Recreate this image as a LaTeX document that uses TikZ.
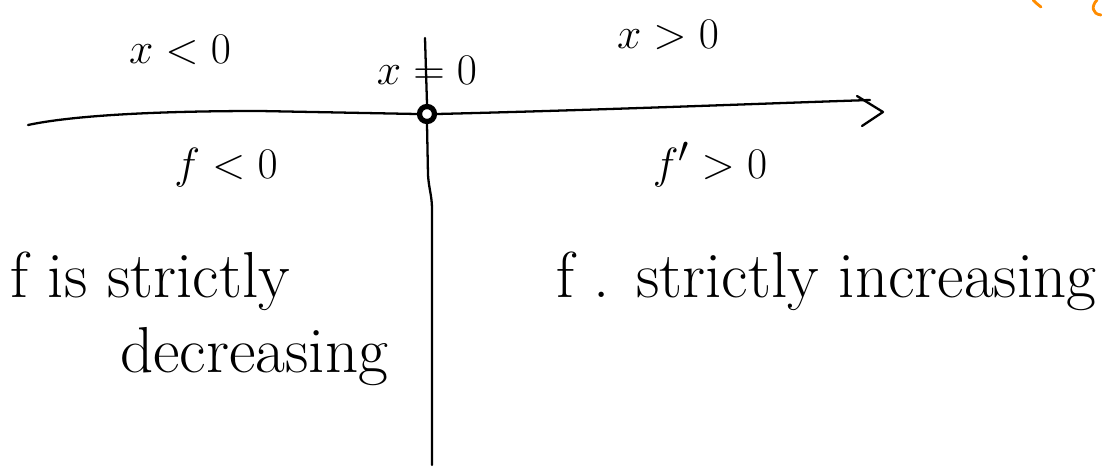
\documentclass[tikz,border=0pt]{standalone}
\usetikzlibrary{positioning}
\begin{document}
\begin{tikzpicture}[
        x=0.02cm, y=-0.02cm,
        every node/.style={font=\fontsize{30}{34}\selectfont, inner sep=0pt},
        bigtext/.style={font=\fontsize{37}{42}\selectfont},
        pen/.style={line width=1.3pt, line cap=round, line join=round},
        origindot/.style={circle, draw, line width=3pt, fill=white,
            minimum size=0.3cm, inner sep=0pt},
        marker/.style={line width=1.6pt, draw=orange!90!yellow, line cap=round}
      ]
      \useasboundingbox (0,0) rectangle (1102,473);
      % axes
      \coordinate (xstart) at (28,125);
      \coordinate (xend) at (870,100);
      \coordinate (tip) at (883,112);
      \coordinate (ytop) at (425,38);
      \coordinate (ybot) at (432,465);
      \node[origindot] (origin) at (427,114) {};
      \draw[pen] (xstart) .. controls (70,116) and (150,111) .. (260,111)
        -- (origin.west);
      \draw[pen] (origin.east) .. controls (600,110) and (750,104) .. (xend);
      \draw[pen] (857,96) -- (tip) -- (862,126);
      \draw[pen] (ytop) -- (origin.north);
      \draw[pen] (origin.south) -- (428,175) .. controls (429,190) and (432,195) .. (432,210)
        -- (ybot);
      % sign labels
      \node (xneg) at (180,50) {$x<0$};
      \node (xzero) at (427,70) {$x=0$};
      \node (xpos) at (668,35) {$x>0$};
      \node (fneg) at (226,168) {$f<0$};
      \node (fpos) at (710,165) {$f'>0$};
      % monotonicity
      \node[bigtext, anchor=base west] (decr) at (10,297) {f is strictly};
      \node[bigtext, anchor=base west] (decr2) at (120,372) {decreasing};
      \node[bigtext, anchor=base west] (incr) at (556,297) {f . strictly increasing};
      % marks at the corner
      \draw[marker] (1033,0) .. controls (1036,3) .. (1041,7);
      \draw[marker] (1097,0) .. controls (1091,6) and (1092,14) .. (1101,15);
\end{tikzpicture}
\end{document}
